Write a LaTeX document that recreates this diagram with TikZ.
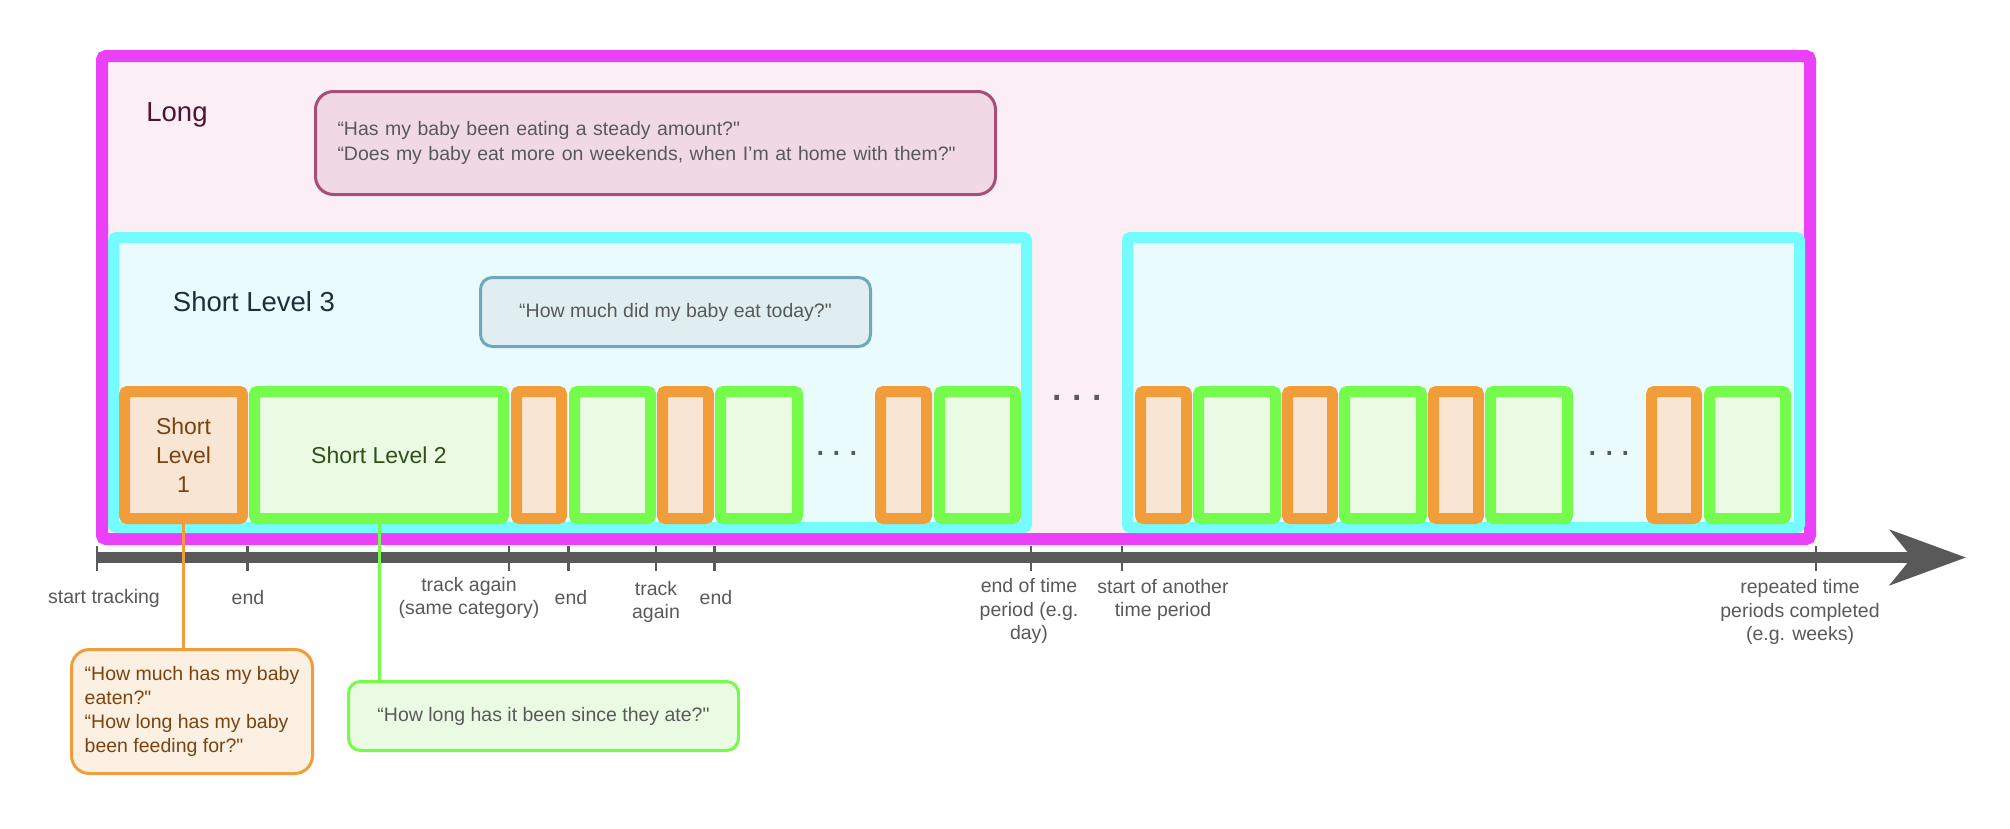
\documentclass[tikz,border=0pt]{standalone}
\usepackage{fontspec}
\setmainfont{Liberation Sans}[Ligatures=TeXOff]
\usetikzlibrary{arrows.meta}
\definecolor{magstroke}{RGB}{234,64,247}
\definecolor{magfill}{RGB}{252,238,245}
\definecolor{cyanstroke}{RGB}{115,251,253}
\definecolor{cyanfill}{RGB}{234,251,254}
\definecolor{orstroke}{RGB}{241,158,58}
\definecolor{orfill}{RGB}{248,229,211}
\definecolor{grstroke}{RGB}{117,251,76}
\definecolor{grfill}{RGB}{235,251,227}
\definecolor{axiscol}{RGB}{89,89,89}
\definecolor{txtgray}{RGB}{89,89,89}
\definecolor{longqfill}{RGB}{240,217,229}
\definecolor{longqstroke}{RGB}{163,80,120}
\definecolor{midqfill}{RGB}{224,238,242}
\definecolor{midqstroke}{RGB}{111,168,189}
\definecolor{orqfill}{RGB}{252,240,227}
\definecolor{lvlonetxt}{RGB}{122,68,16}
\definecolor{lvltwotxt}{RGB}{48,80,24}
\definecolor{longtxt}{RGB}{77,20,50}
\definecolor{lvlthreetxt}{RGB}{28,48,60}
\tikzset{
  longbox/.style={draw=magstroke, fill=magfill, line width=12pt, rounded corners=4pt, inner sep=0pt},
  periodbox/.style={draw=cyanstroke, fill=cyanfill, line width=11pt, rounded corners=3pt, inner sep=0pt, minimum height=290pt},
  lvlone/.style={draw=orstroke, fill=orfill, line width=11pt, rounded corners=3pt, inner sep=0pt, minimum height=127pt,
    text=lvlonetxt, align=center, font=\fontsize{23pt}{29pt}\selectfont},
  lvltwo/.style={draw=grstroke, fill=grfill, line width=11pt, rounded corners=3pt, inner sep=0pt, minimum height=127pt,
    text=lvltwotxt, align=center, font=\fontsize{23pt}{29pt}\selectfont},
  bigtitle/.style={font=\fontsize{27.5pt}{33pt}\selectfont, inner sep=0pt},
  axlabel/.style={text=txtgray, align=center, font=\fontsize{19.5pt}{23.5pt}\selectfont, inner sep=0pt},
  qbox/.style={line width=3pt, inner sep=0pt, font=\fontsize{19.5pt}{24.5pt}\selectfont},
  longq/.style={qbox, draw=longqstroke, fill=longqfill, text=txtgray, rounded corners=18pt},
  midq/.style={qbox, draw=midqstroke, fill=midqfill, text=txtgray, rounded corners=12pt},
  orq/.style={qbox, draw=orstroke, fill=orqfill, text=lvlonetxt, rounded corners=18pt, font=\fontsize{19.5pt}{24pt}\selectfont},
  grq/.style={qbox, draw=grstroke, fill=grfill, text=txtgray, rounded corners=12pt},
  smalldots/.style={text=axiscol, inner sep=0pt, font=\fontsize{38pt}{38pt}\selectfont},
  bigdots/.style={text=axiscol, inner sep=0pt, font=\fontsize{48pt}{48pt}\selectfont},
  tickmark/.style={draw=axiscol, line width=2.5pt},
}
\begin{document}
\begin{tikzpicture}[x=1pt, y=-1pt]
\useasboundingbox (0,0) rectangle (2010,828);

% outer long-term box
\node[longbox, minimum width=1708pt, minimum height=483pt] (long) at (956,297.5) {};
\node[bigtitle, text=longtxt] (longlbl) at (177,115) {Long};
\node[longq, minimum width=680pt, minimum height=103pt, text width=636pt, align=left] (lq) at (655.5,143)
  {“Has my baby been eating a steady amount?"\\“Does my baby eat more on weekends, when I’m at home with them?"};

% time-period boxes
\node[periodbox, minimum width=913pt] (p1) at (570,382.5) {};
\node[periodbox, minimum width=672pt] (p2) at (1463.5,382.5) {};
\node[bigtitle, text=lvlthreetxt] (l3lbl) at (254,302) {Short Level 3};
\node[midq, minimum width=390pt, minimum height=69pt] (mq) at (675.5,312) {“How much did my baby eat today?"};

% first period row
\node[lvlone, minimum width=118pt] (a1) at (183.5,455) {Short\\Level\\1};
\node[lvltwo, minimum width=249pt] (g1) at (379,455) {Short Level 2};
\node[lvlone, minimum width=45pt] (a2) at (539,455) {};
\node[lvltwo, minimum width=76pt] (g2) at (612.5,455) {};
\node[lvlone, minimum width=46pt] (a3) at (685.5,455) {};
\node[lvltwo, minimum width=77pt] (g3) at (759,455) {};
\node[smalldots] (d1) at (837,453) {.\kern6pt.\kern6pt.};
\node[lvlone, minimum width=46pt] (a4) at (903.5,455) {};
\node[lvltwo, minimum width=76pt] (g4) at (977.5,455) {};

\node[bigdots] (d2) at (1077,398) {.\kern7pt.\kern7pt.};

% second period row
\node[lvlone, minimum width=46pt] (b1) at (1163.5,455) {};
\node[lvltwo, minimum width=77pt] (h1) at (1237,455) {};
\node[lvlone, minimum width=45pt] (b2) at (1310,455) {};
\node[lvltwo, minimum width=77pt] (h2) at (1383,455) {};
\node[lvlone, minimum width=45pt] (b3) at (1456,455) {};
\node[lvltwo, minimum width=77pt] (h3) at (1529,455) {};
\node[smalldots] (d3) at (1609.5,453) {.\kern6pt.\kern6pt.};
\node[lvlone, minimum width=45pt] (b4) at (1674,455) {};
\node[lvltwo, minimum width=76pt] (h4) at (1747.5,455) {};

% axis
\coordinate (axL) at (97,557.5);
\coordinate (axR) at (1966,557.5);
\draw[line width=11pt, axiscol, -{Stealth[length=76pt,width=55pt,inset=22pt]}] (axL) -- (axR);
\foreach \tx in {97,247.5,509,568.5,656,714.5,1031,1122,1816}
  \draw[tickmark] (\tx,546) -- (\tx,571);

% axis labels
\node[axlabel] (t1) at (104,598) {start tracking};
\node[axlabel] (t2) at (248,598) {end};
\node[axlabel] (t3) at (469,598) {track again\\(same category)};
\node[axlabel] (t4) at (571,598) {end};
\node[axlabel] (t5) at (656,602) {track\\again};
\node[axlabel] (t6) at (716,598) {end};
\node[axlabel] (t7) at (1029,611) {end of time\\period (e.g.\\day)};
\node[axlabel] (t8) at (1163,600) {start of another\\time period};
\node[axlabel] (t9) at (1800,612) {repeated time\\periods completed\\(e.g. weeks)};

% callouts below
\node[orq, minimum width=241pt, minimum height=124pt, align=left] (oq) at (192,711.5)
  {“How much has my baby\\eaten?"\\“How long has my baby\\been feeding for?"};
\node[grq, minimum width=390pt, minimum height=69pt] (gq) at (543.5,716) {“How long has it been since they ate?"};

% connectors
\draw[orstroke, line width=3pt] (a1.south) -- (a1.south |- oq.north);
\draw[grstroke, line width=3pt] (g1.south) -- (g1.south |- gq.north);
\end{tikzpicture}
\end{document}
